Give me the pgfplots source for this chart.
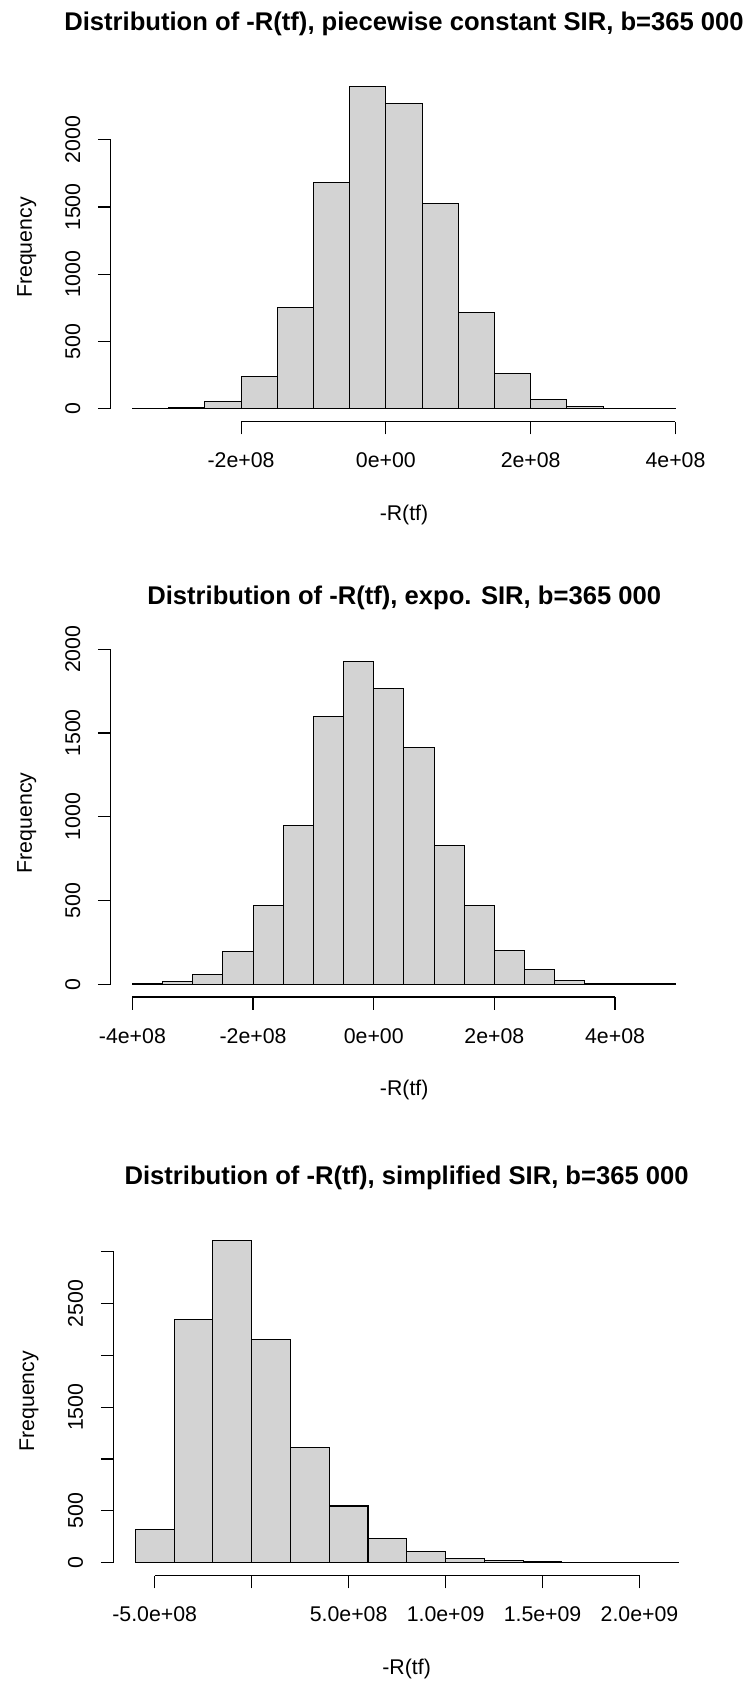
\documentclass[border=0pt]{standalone}
\usepackage{fontspec}
\setmainfont{Liberation Sans}
\usepackage{pgfplots}
\pgfplotsset{compat=1.18}
\definecolor{histfill}{RGB}{211,211,211}
\pgfplotsset{
  rhist/.style={
    scale only axis, width=293.2pt, height=174.1pt,
    anchor=south west,
    axis x line*=bottom, axis y line*=left,
    axis line style={draw=none},
    tick align=outside,
    major tick length=6.4pt,
    every tick/.style={black, line width=0.6pt},
    tick label style={font=\fontsize{10.65}{12}\selectfont, black},
    scaled x ticks=false, scaled y ticks=false,
    yticklabel style={rotate=90, anchor=south},
    xticklabel shift=5.8pt,
    yticklabel shift=5.3pt,
    clip=false,
  },
  rbar/.style={ybar interval, fill=histfill, draw=black, line width=0.55pt},
}
\newcommand{\tfont}{\fontsize{12.8}{14}\selectfont\bfseries}
\newcommand{\lfont}{\fontsize{10.65}{12}\selectfont}
\begin{document}
\begin{tikzpicture}
\path[use as bounding box] (0,0) rectangle (374pt,841pt);

% ---------- Plot 1 ----------
\begin{axis}[rhist, at={(55.4pt,630.2pt)},
  xmin=-3.8e8, xmax=4.3e8, ymin=-96, ymax=2494,
  xtick={-2e8,0,2e8,4e8}, xticklabels={-2e+08,0e+00,2e+08,4e+08},
  ytick={0,500,1000,1500,2000}, yticklabels={0,500,1000,1500,2000}]
\addplot[rbar] coordinates {
(-3.5e8,1) (-3.0e8,7) (-2.5e8,52) (-2.0e8,240) (-1.5e8,754) (-1.0e8,1682)
(-0.5e8,2398) (0,2272) (0.5e8,1528) (1.0e8,714) (1.5e8,260) (2.0e8,67)
(2.5e8,15) (3.0e8,2) (3.5e8,1) (4.0e8,0)};
\draw[line width=0.6pt] (axis cs:-2e8,-96) -- (axis cs:4e8,-96);
\draw[line width=0.6pt] (axis cs:-3.8e8,0) -- (axis cs:-3.8e8,2000);
\end{axis}
\node[anchor=base, font=\tfont] at (202pt,825.65pt) {Distribution of -R(tf), piecewise constant SIR, b=365 000};
\node[anchor=base, font=\lfont] at (202pt,580.75pt) {-R(tf)};
\node[anchor=base, rotate=90, font=\lfont] at (16pt,717.25pt) {Frequency};

% ---------- Plot 2 ----------
\begin{axis}[rhist, at={(55.35pt,342.5pt)},
  xmin=-4.36e8, xmax=5.36e8, ymin=-77, ymax=2003,
  xtick={-4e8,-2e8,0,2e8,4e8}, xticklabels={-4e+08,-2e+08,0e+00,2e+08,4e+08},
  ytick={0,500,1000,1500,2000}, yticklabels={0,500,1000,1500,2000}]
\addplot[rbar] coordinates {
(-4.0e8,1) (-3.5e8,16) (-3.0e8,60) (-2.5e8,193) (-2.0e8,472) (-1.5e8,950)
(-1.0e8,1599) (-0.5e8,1926) (0,1766) (0.5e8,1416) (1.0e8,830) (1.5e8,470)
(2.0e8,203) (2.5e8,88) (3.0e8,24) (3.5e8,5) (4.0e8,1) (4.5e8,1) (5.0e8,0)};
\draw[line width=0.6pt] (axis cs:-4e8,-77) -- (axis cs:4e8,-77);
\draw[line width=0.6pt] (axis cs:-4.36e8,0) -- (axis cs:-4.36e8,2000);
\end{axis}
\node[anchor=base, font=\tfont] at (202.1pt,538.6pt) {Distribution of -R(tf), expo. SIR, b=365 000};
\node[anchor=base, font=\lfont] at (202.1pt,293pt) {-R(tf)};
\node[anchor=base, rotate=90, font=\lfont] at (16pt,429.5pt) {Frequency};

% ---------- Plot 3 ----------
\begin{axis}[rhist, at={(56.8pt,53.25pt)},
  xmin=-7.12e8, xmax=2.312e9, ymin=-124.5, ymax=3237.5,
  xtick={-5e8,0,5e8,1e9,1.5e9,2e9}, xticklabels={-5.0e+08,,5.0e+08,1.0e+09,1.5e+09,2.0e+09},
  ytick={0,500,1000,1500,2000,2500,3000}, yticklabels={0,500,,1500,,2500,}]
\addplot[rbar] coordinates {
(-6e8,322) (-4e8,2347) (-2e8,3113) (0,2157) (2e8,1114) (4e8,547) (6e8,229)
(8e8,106) (10e8,39) (12e8,16) (14e8,13) (16e8,5) (18e8,5) (20e8,1) (22e8,0)};
\draw[line width=0.6pt] (axis cs:-5e8,-124.5) -- (axis cs:2e9,-124.5);
\draw[line width=0.6pt] (axis cs:-7.12e8,0) -- (axis cs:-7.12e8,3000);
\end{axis}
\node[anchor=base, font=\tfont] at (203.3pt,248.9pt) {Distribution of -R(tf), simplified SIR, b=365 000};
\node[anchor=base, font=\lfont] at (203.3pt,4pt) {-R(tf)};
\node[anchor=base, rotate=90, font=\lfont] at (17pt,140.35pt) {Frequency};
\end{tikzpicture}
\end{document}
